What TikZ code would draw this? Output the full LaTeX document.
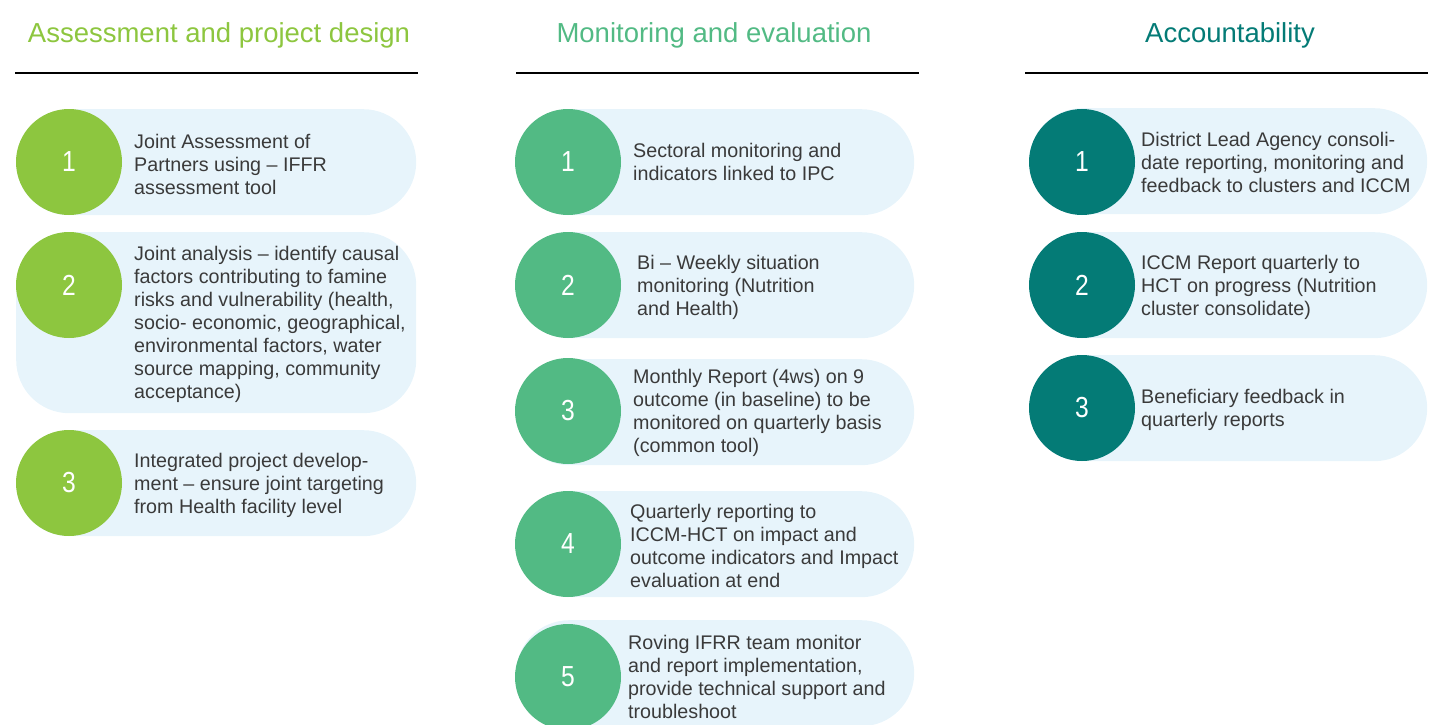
\documentclass[tikz,border=0pt]{standalone}
\usepackage{fontspec}
\setmainfont{Liberation Sans}
\newfontfamily\numfont[FakeStretch=0.85]{Liberation Sans}
\definecolor{leaf}{RGB}{141,198,63}
\definecolor{mint}{RGB}{82,186,132}
\definecolor{teal}{RGB}{4,123,118}
\definecolor{pillfill}{RGB}{231,244,251}
\definecolor{bodytext}{RGB}{58,58,58}
\tikzset{
  pill/.style={draw=none, fill=pillfill, rounded corners=53pt, anchor=north west,
    minimum height=106pt, inner sep=0pt},
  badge/.style={circle, draw=none, minimum size=106pt, inner sep=0pt, text=white,
    font=\numfont\fontsize{29}{30}\selectfont},
  itemtext/.style={anchor=west, align=left, inner sep=0pt, text=bodytext,
    font=\fontsize{19.7}{23}\selectfont},
  heading/.style={anchor=base, inner sep=0pt, font=\fontsize{27.5}{30}\selectfont},
  rule/.style={line width=2pt, black}
}
\begin{document}
\begin{tikzpicture}[x=1pt, y=-1pt]
\useasboundingbox (0,0) rectangle (1430,725);

% ---------- Column 1: Assessment and project design ----------
\node[heading, text=leaf] (h1) at (219,43) {Assessment and project design};
\coordinate (r1a) at (15,73); \coordinate (r1b) at (418,73);
\draw[rule] (r1a) -- (r1b);

\node[pill, minimum width=400pt] (a1) at (16,109) {};
\node[badge, fill=leaf] (a1n) at (69,162) {1};
\node[itemtext] (a1t) at (134,164) {Joint Assessment of\\Partners using -- IFFR\\assessment tool};

\node[pill, minimum width=400pt, minimum height=181pt] (a2) at (16,232) {};
\node[badge, fill=leaf] (a2n) at (69,285) {2};
\node[itemtext] (a2t) at (134,324) {Joint analysis -- identify causal\\factors contributing to famine\\risks and vulnerability (health,\\socio- economic, geographical,\\environmental factors, water\\source mapping, community\\acceptance)};

\node[pill, minimum width=400pt] (a3) at (16,430) {};
\node[badge, fill=leaf] (a3n) at (69,483) {3};
\node[itemtext] (a3t) at (134,485) {Integrated project develop-\\ment -- ensure joint targeting\\from Health facility level};

% ---------- Column 2: Monitoring and evaluation ----------
\node[heading, text=mint] (h2) at (714,43) {Monitoring and evaluation};
\coordinate (r2a) at (516,73); \coordinate (r2b) at (919,73);
\draw[rule] (r2a) -- (r2b);

\node[pill, minimum width=398pt] (m1) at (516,109) {};
\node[badge, fill=mint] (m1n) at (568,162) {1};
\node[itemtext] (m1t) at (633,162) {Sectoral monitoring and\\indicators linked to IPC};

\node[pill, minimum width=398pt] (m2) at (516,232) {};
\node[badge, fill=mint] (m2n) at (568,285) {2};
\node[itemtext] (m2t) at (637,287) {Bi -- Weekly situation\\monitoring (Nutrition\\and Health)};

\node[pill, minimum width=398pt] (m3) at (516,359) {};
\node[badge, fill=mint] (m3n) at (568,411) {3};
\node[itemtext] (m3t) at (633,413) {Monthly Report (4ws) on 9\\outcome (in baseline) to be\\monitored on quarterly basis\\(common tool)};

\node[pill, minimum width=398pt] (m4) at (516,491) {};
\node[badge, fill=mint] (m4n) at (568,544) {4};
\node[itemtext] (m4t) at (630,546) {Quarterly reporting to\\ICCM-HCT on impact and\\outcome indicators and Impact\\evaluation at end};

\node[pill, minimum width=398pt] (m5) at (516,620) {};
\node[badge, fill=mint] (m5n) at (568,677) {5};
\node[itemtext] (m5t) at (628,677) {Roving IFRR team monitor\\and report implementation,\\provide technical support and\\troubleshoot};

% ---------- Column 3: Accountability ----------
\node[heading, text=teal] (h3) at (1230,43) {Accountability};
\coordinate (r3a) at (1025,73); \coordinate (r3b) at (1428,73);
\draw[rule] (r3a) -- (r3b);

\node[pill, minimum width=398pt] (c1) at (1029,108) {};
\node[badge, fill=teal] (c1n) at (1082,162) {1};
\node[itemtext] (c1t) at (1141,162) {District Lead Agency consoli-\\date reporting, monitoring and\\feedback to clusters and ICCM};

\node[pill, minimum width=398pt] (c2) at (1029,232) {};
\node[badge, fill=teal] (c2n) at (1082,285) {2};
\node[itemtext] (c2t) at (1141,287) {ICCM Report quarterly to\\HCT on progress (Nutrition\\cluster consolidate)};

\node[pill, minimum width=398pt] (c3) at (1029,355) {};
\node[badge, fill=teal] (c3n) at (1082,408) {3};
\node[itemtext] (c3t) at (1141,410) {Beneficiary feedback in\\quarterly reports};
\end{tikzpicture}
\end{document}
